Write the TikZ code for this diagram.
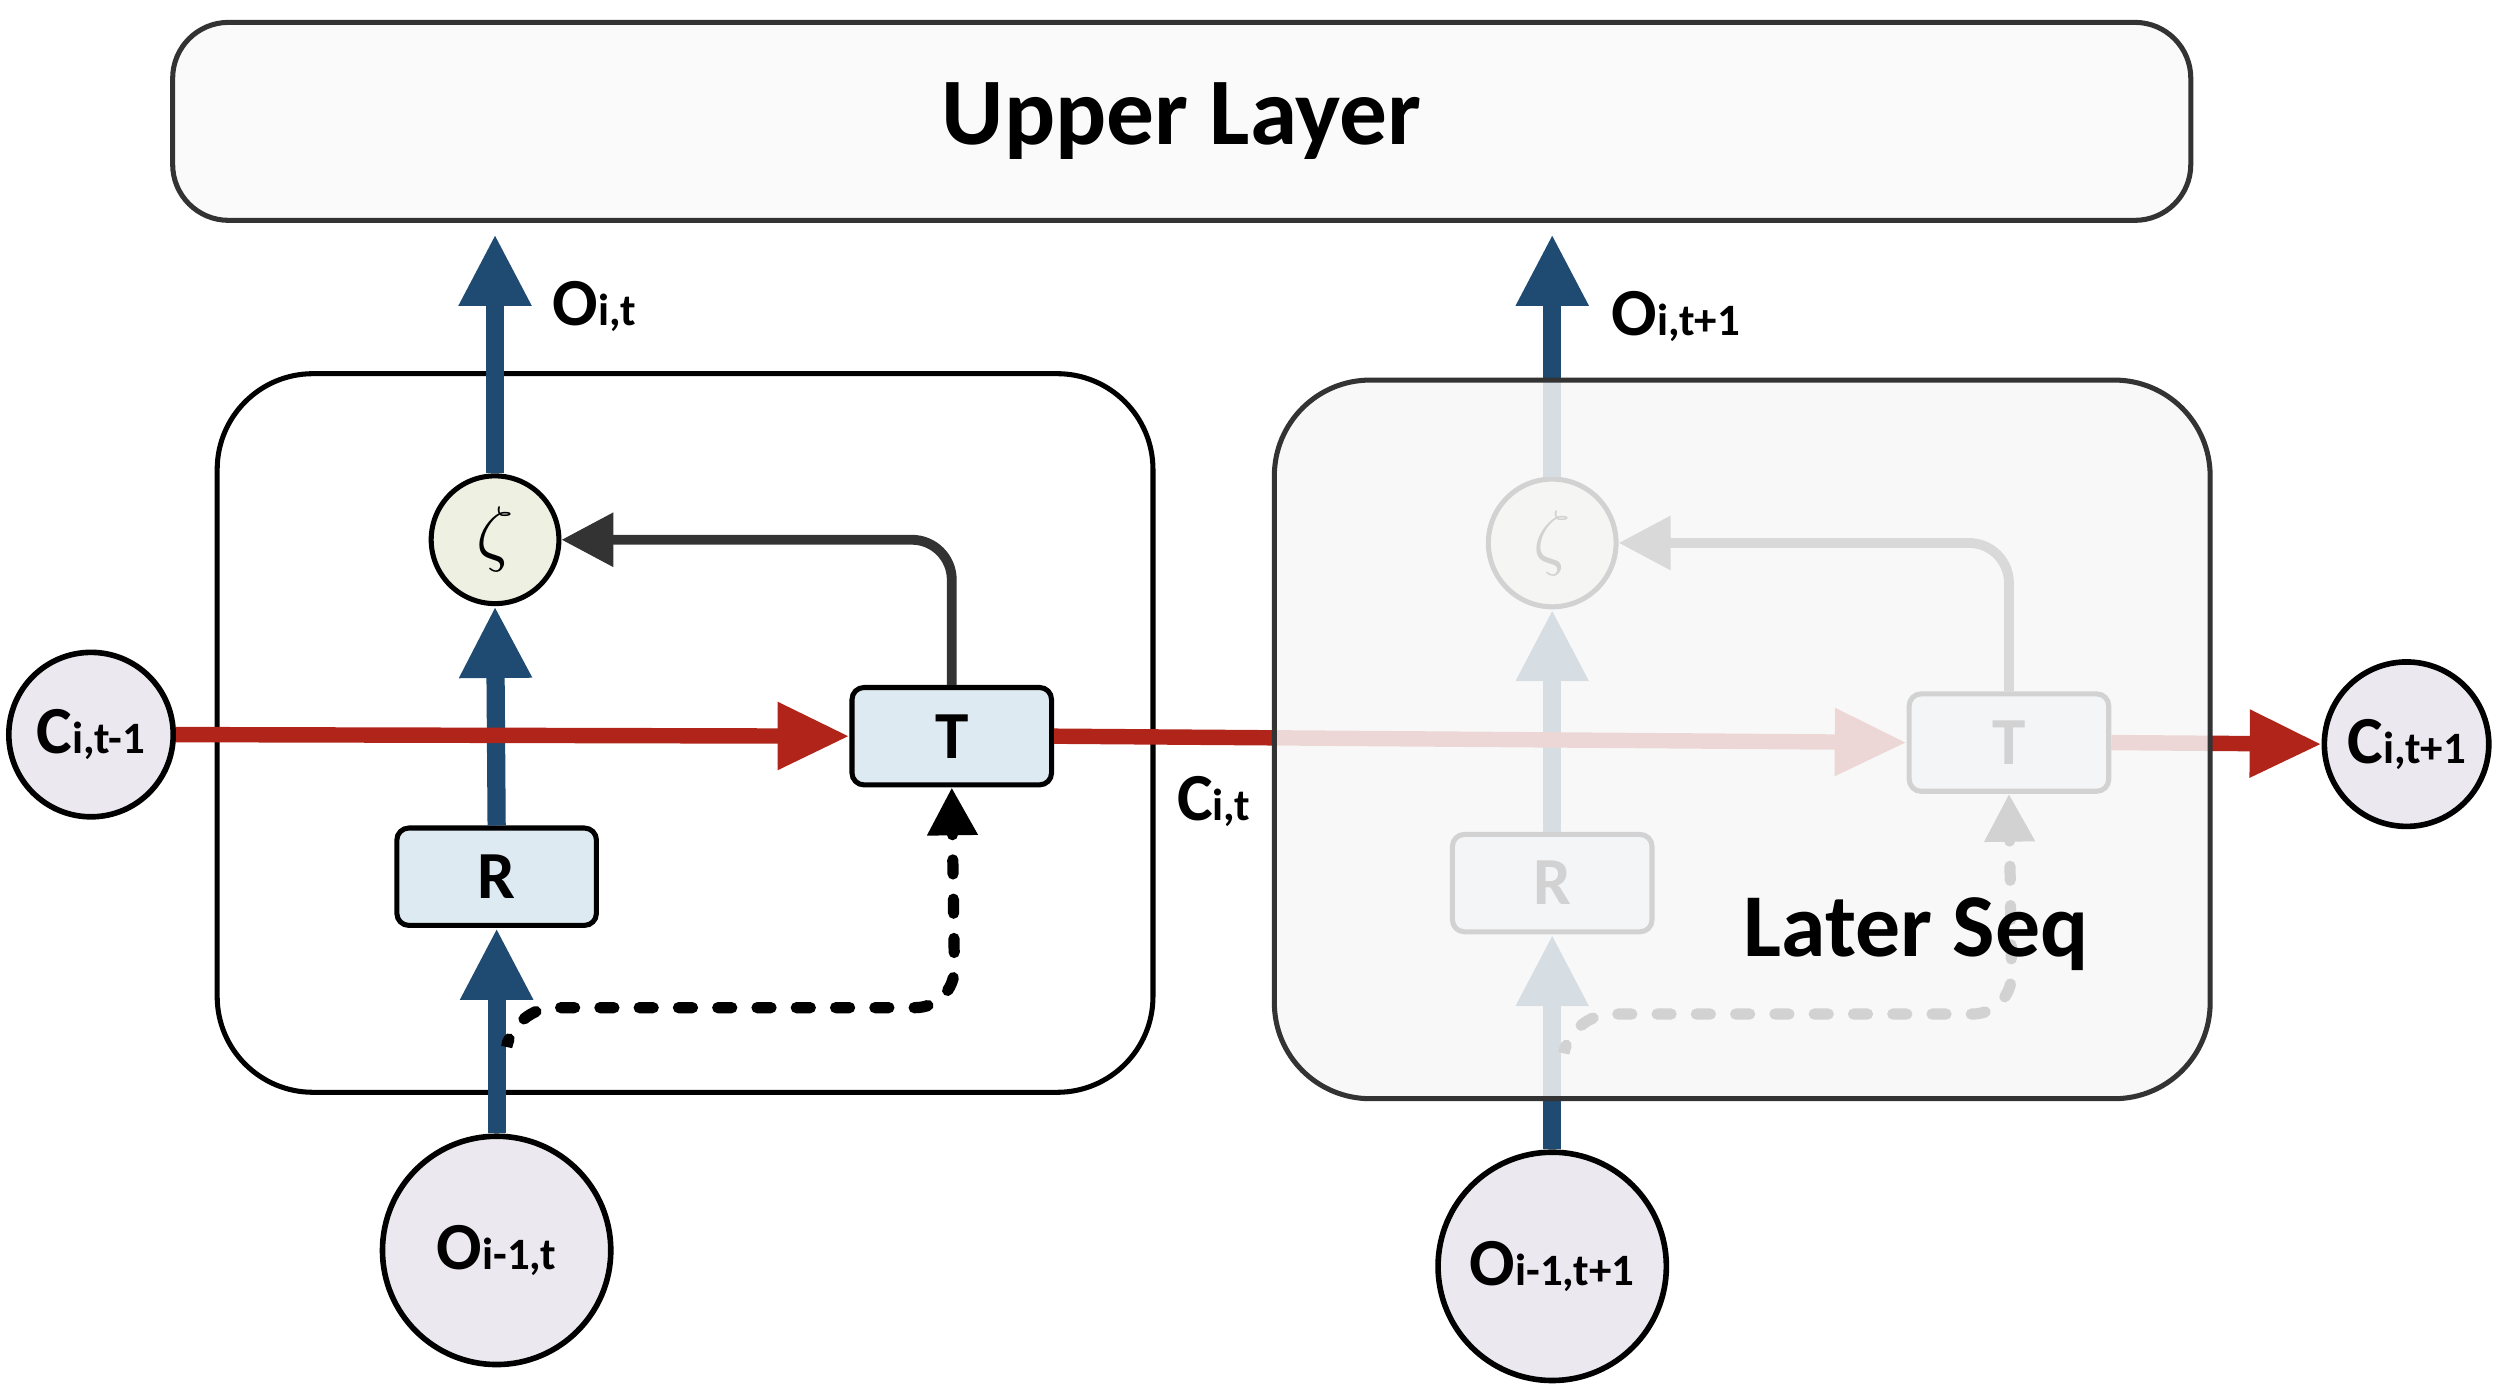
\documentclass[tikz,border=0pt]{standalone}
\usepackage{fontspec}
\setmainfont{Carlito}
\usetikzlibrary{arrows.meta}
\definecolor{cblue}{HTML}{1F4A72}
\definecolor{cred}{HTML}{B0241A}
\definecolor{cgray}{HTML}{333333}
\definecolor{zfill}{HTML}{EEF1E2}
\definecolor{bfill}{HTML}{DDEAF2}
\definecolor{cfill}{HTML}{ECE8F0}
\newcommand\lb[2]{\textbf{#1{\fontsize{16}{16}\selectfont #2}}}
\newcommand\zsym{\scalebox{2.6}{$\zeta$}}
\begin{document}
\begin{tikzpicture}[x=0.02cm,y=-0.02cm,
  lab/.style={font=\fontsize{24}{24}\selectfont},
  cell/.style={draw=black,line width=1.8pt,rounded corners=1.2cm},
  circ/.style={circle,draw=black,line width=2pt,fill=cfill,inner sep=0pt,font=\fontsize{24}{24}\selectfont},
  zeta/.style={circle,draw=black,line width=1.8pt,fill=zfill,minimum size=1.6cm,inner sep=0pt},
  gate/.style={rectangle,rounded corners=0.15cm,draw=black,line width=1.8pt,fill=bfill,minimum width=2.5cm,minimum height=1.22cm,font=\bfseries\fontsize{24}{24}\selectfont},
  barrow/.style={draw=cblue,line width=6.5pt,-{Triangle[length=0.9cm,width=0.85cm]}},
  rarrow/.style={draw=cred,line width=5.5pt,-{Triangle[length=0.9cm,width=0.8cm]}},
  garrow/.style={draw=cgray,line width=3.5pt,rounded corners=0.5cm,-{Triangle[length=0.65cm,width=0.65cm]}},
  darrow/.style={draw=black,line width=4pt,line cap=round,dash pattern=on 5pt off 9pt,rounded corners=0.5cm,-{Triangle[length=0.6cm,width=0.6cm]}}]
\useasboundingbox (0,0) rectangle (1563,868);
% upper layer
\node[draw=cgray,line width=1.8pt,fill=gray!4,rounded corners=0.7cm,minimum width=25.28cm,minimum height=2.48cm,font=\bfseries\fontsize{34}{34}\selectfont] (U) at (740,76) {Upper Layer};
% left cell
\draw[cell] (136,234) rectangle (722,684);
\node[zeta] (z1) at (310,338) {\zsym};
\node[gate] (R1) at (311,549) {R};
\node[gate] (T1) at (596,461) {T};
\node[circ,minimum size=2.06cm] (C0) at (57,460) {\lb{C}{i,t-1}};
\node[circ,minimum width=2.74cm,minimum height=2.86cm] (O1) at (311,783) {\lb{O}{i-1,t}};
% right cell contents
\node[zeta] (z2) at (972,340) {\zsym};
\node[gate] (R2) at (972,553) {R};
\node[gate] (T2) at (1258,465) {T};
\node[circ,minimum size=2.06cm] (C2) at (1507,466) {\lb{C}{i,t+1}};
\node[circ,minimum width=2.68cm,minimum height=2.86cm] (O2) at (972,793) {\lb{O}{i-1,t+1}};
% arrows left
\draw[barrow] (O1.north) -- (R1.south);
\draw[barrow] (R1.north) -- (z1.south);
\draw[barrow,shorten >=4pt] (z1.north) -- (z1.north |- U.south);
\draw[rarrow] (C0.east) -- (T1.west);
\draw[garrow] (T1.north) |- (z1.east);
\coordinate (d1) at (318,652);
\draw[darrow] (d1) -- (322,631) -- (598,631) -- (T1.south);
% arrows right
\draw[barrow] (O2.north) -- (R2.south);
\draw[barrow] (R2.north) -- (z2.south);
\draw[barrow,shorten >=4pt] (z2.north) -- (z2.north |- U.south);
\draw[rarrow] (T1.east) -- (T2.west);
\draw[rarrow] (T2.east) -- (C2.west);
\draw[garrow] (T2.north) |- (z2.east);
\coordinate (d2) at (980,656);
\draw[darrow] (d2) -- (984,635) -- (1260,635) -- (T2.south);
% fading right cell
\draw[draw=cgray,line width=1.8pt,rounded corners=1.2cm,fill=gray!6,fill opacity=0.85] (798,238) rectangle (1384,688);
% labels
\node[lab,anchor=west] (lo1) at (340,192) {\lb{O}{i,t}};
\node[lab,anchor=west] (lo2) at (1003,198) {\lb{O}{i,t+1}};
\node[lab,anchor=west] (lc) at (731,502) {\lb{C}{i,t}};
\node[font=\bfseries\fontsize{32}{32}\selectfont] (ls) at (1200,585) {Later Seq};
\end{tikzpicture}
\end{document}
